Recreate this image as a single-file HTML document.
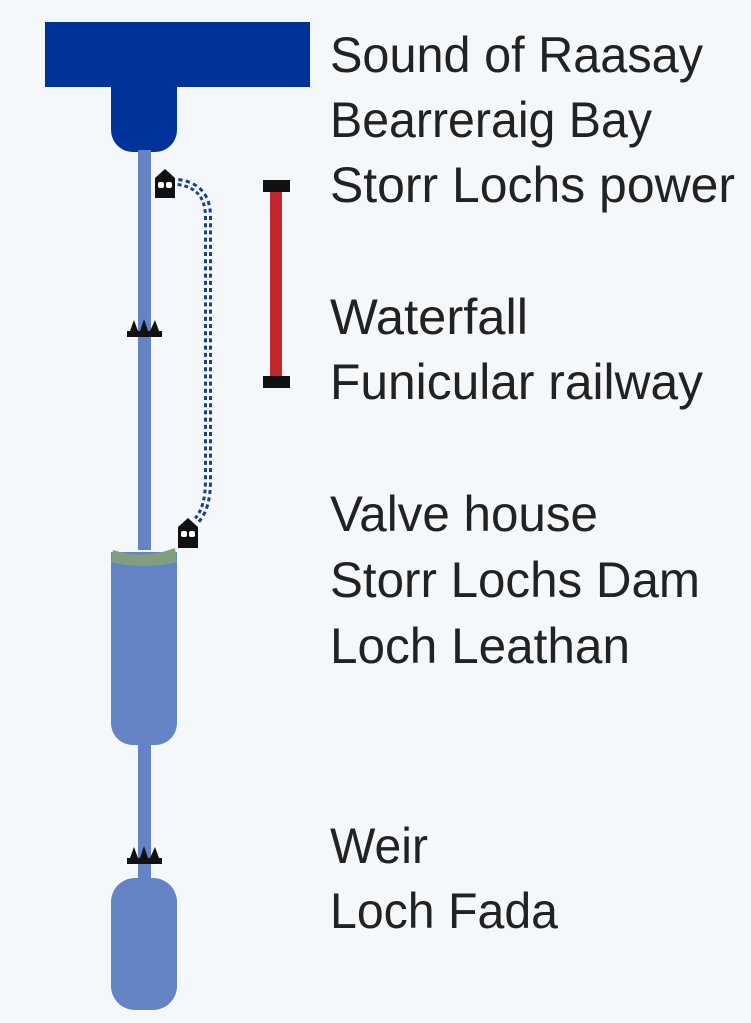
<!DOCTYPE html>
<html><head><style>
html,body{margin:0;padding:0;background:#f5f8fb;}
svg{display:block}
text{font-family:"Liberation Sans",sans-serif;font-size:50px;fill:#222;}
</style></head><body>
<svg width="751" height="1023" viewBox="0 0 751 1023">
<rect width="751" height="1023" fill="#f5f8fb"/>
<rect x="45" y="22" width="265" height="65" fill="#003399"/>
<path d="M111 86 H177 V130 A22 22 0 0 1 155 152 H133 A22 22 0 0 1 111 130 Z" fill="#003399"/>
<rect x="138" y="150" width="13" height="400" fill="#6483c4"/>
<rect x="138" y="740" width="13" height="145" fill="#6483c4"/>
<path d="M111 552 H177 V722 A22 22 0 0 1 155 745 H133 A22 22 0 0 1 111 722 Z" fill="#6483c4"/>
<path d="M113 550 Q144 560 175 548 L177 562 Q144 570 111 562 Z" fill="#7f9f7f"/>
<rect x="111" y="878" width="66" height="132" rx="24" fill="#6483c4"/>
<g fill="#111">
<rect x="127" y="331" width="35" height="6"/>
<path d="M130 331 L134 320 L138 331 Z M140 331 L144 319 L148 331 Z M150 331 L155 320 L159 331 Z"/>
<rect x="127" y="858" width="35" height="6"/>
<path d="M130 858 L134 847 L138 858 Z M140 858 L144 846 L148 858 Z M150 858 L155 847 L159 858 Z"/>
</g>
<path d="M178 182 Q208 186 208 217 V480 Q208 508 197 520" fill="none" stroke="#1a3d8f" stroke-width="8" stroke-dasharray="4 3.2"/>
<path d="M178 182 Q208 186 208 217 V480 Q208 508 197 520" fill="none" stroke="#f5f8fb" stroke-width="2"/>
<g fill="#111">
<path d="M155 178 L165 169 L175 178 V198 H155 Z"/>
<path d="M178 527 L188 518 L198 527 V548 H178 Z"/>
</g>
<g fill="#fff">
<rect x="158" y="182" width="6" height="6" rx="2"/><rect x="166" y="182" width="6" height="6" rx="2"/>
<rect x="181" y="531" width="6" height="6" rx="2"/><rect x="189" y="531" width="6" height="6" rx="2"/>
</g>
<rect x="270" y="186" width="12" height="196" fill="#c1272d"/>
<rect x="263" y="180" width="27" height="12" fill="#111"/>
<rect x="263" y="376" width="27" height="12" fill="#111"/>
<text x="330" y="72" textLength="373" lengthAdjust="spacingAndGlyphs">Sound of Raasay</text>
<text x="330" y="137" textLength="322" lengthAdjust="spacingAndGlyphs">Bearreraig Bay</text>
<text x="330" y="202" textLength="405" lengthAdjust="spacingAndGlyphs">Storr Lochs power</text>
<text x="330" y="334" textLength="198" lengthAdjust="spacingAndGlyphs">Waterfall</text>
<text x="330" y="399" textLength="373" lengthAdjust="spacingAndGlyphs">Funicular railway</text>
<text x="330" y="531" textLength="268" lengthAdjust="spacingAndGlyphs">Valve house</text>
<text x="330" y="597" textLength="370" lengthAdjust="spacingAndGlyphs">Storr Lochs Dam</text>
<text x="330" y="663" textLength="300" lengthAdjust="spacingAndGlyphs">Loch Leathan</text>
<text x="330" y="863" textLength="98" lengthAdjust="spacingAndGlyphs">Weir</text>
<text x="330" y="928" textLength="228" lengthAdjust="spacingAndGlyphs">Loch Fada</text>
</svg>
</body></html>
